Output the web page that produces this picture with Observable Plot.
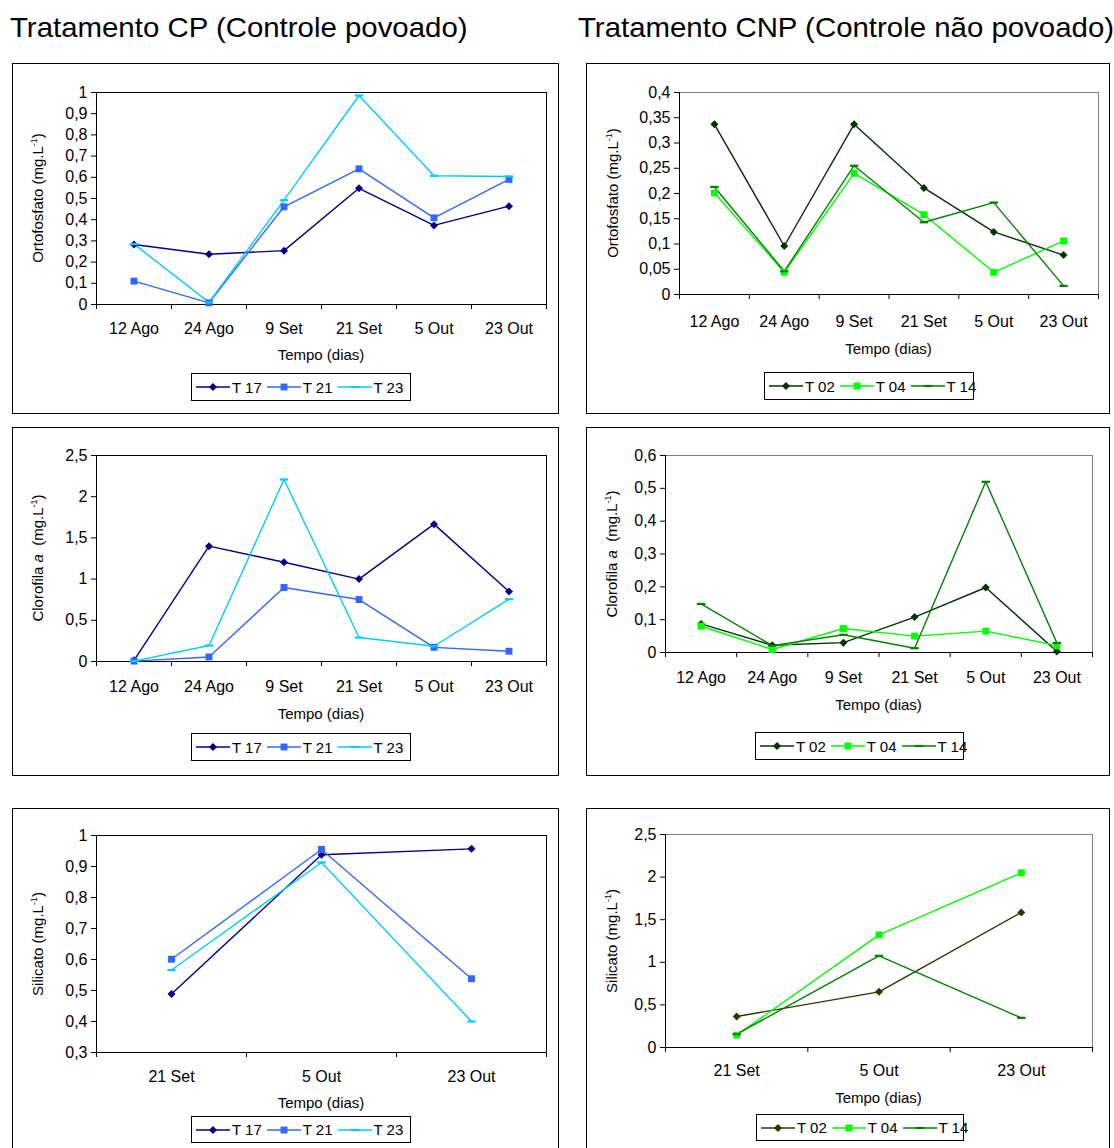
<!DOCTYPE html>
<html>
<head>
<meta charset="utf-8">
<script src="https://cdn.jsdelivr.net/npm/d3@7"></script>
<script src="https://cdn.jsdelivr.net/npm/@observablehq/plot@0.6"></script>
<style>
  body { margin: 0; background: #fff; font-family: "Liberation Sans", Arial, sans-serif; color: #000; }
  #page { position: relative; width: 1114px; height: 1148px; overflow: hidden; background: #fff; }
  .title { position: absolute; font-size: 28px; white-space: nowrap; line-height: 1; transform: scaleX(1.05); transform-origin: 0 0; }
  .panel { position: absolute; border: 1px solid #000; box-sizing: border-box; background: #fff; }
  .panel > svg { position: absolute; left: 0; top: 0; overflow: visible; }
  .ylab { position: absolute; transform: translate(-50%, -50%) rotate(-90deg); white-space: nowrap; font-size: 15px; line-height: 1; }
  .ylab sup { font-size: 9px; vertical-align: 6px; line-height: 0; }
  .xlab { position: absolute; transform: translate(-50%, -50%); white-space: nowrap; font-size: 15px; line-height: 1; }
  .legend { position: absolute; border: 1px solid #000; box-sizing: border-box; background: #fff;
            display: flex; align-items: center; padding-left: 4px; font-size: 15px; line-height: 1; white-space: nowrap; }
  .legend .item { display: flex; align-items: center; margin-right: 5px; flex: 0 0 auto; white-space: nowrap; }
  .legend svg { display: block; margin-right: 2px; flex: 0 0 auto; }
</style>
</head>
<body>
<div id="page"></div>
<script>
// Sampling dates
const datasCompletas = ["12 Ago", "24 Ago", "9 Set", "21 Set", "5 Out", "23 Out"];
const datasSilicato = ["21 Set", "5 Out", "23 Out"];

// Ortofosfato (mg/L) – CP tanks
const ortoT17 = [0.283, 0.237, 0.254, 0.548, 0.373, 0.464];
const ortoT21 = [0.110, 0.008, 0.461, 0.640, 0.409, 0.590];
const ortoT23 = [0.285, 0.010, 0.492, 0.986, 0.607, 0.604];
// Ortofosfato (mg/L) – CNP tanks
const ortoT02 = [0.337, 0.096, 0.337, 0.211, 0.124, 0.078];
const ortoT04 = [0.201, 0.044, 0.240, 0.158, 0.044, 0.106];
const ortoT14 = [0.213, 0.046, 0.255, 0.143, 0.182, 0.017];

// Clorofila a (mg/L) – CP tanks
const cloT17 = [0.015, 1.400, 1.205, 1.000, 1.667, 0.850];
const cloT21 = [0.005, 0.055, 0.898, 0.752, 0.172, 0.125];
const cloT23 = [0.005, 0.194, 2.209, 0.291, 0.185, 0.756];
// Clorofila a (mg/L) – CNP tanks
const cloT02 = [0.087, 0.022, 0.030, 0.108, 0.198, 0.003];
const cloT04 = [0.080, 0.009, 0.073, 0.050, 0.065, 0.021];
const cloT14 = [0.148, 0.021, 0.054, 0.013, 0.520, 0.029];

// Silicato (mg/L) – CP tanks
const silT17 = [0.489, 0.938, 0.957];
const silT21 = [0.601, 0.955, 0.538];
const silT23 = [0.566, 0.913, 0.400];
// Silicato (mg/L) – CNP tanks
const silT02 = [0.364, 0.653, 1.585];
const silT04 = [0.145, 1.322, 2.050];
const silT14 = [0.156, 1.076, 0.348];

// Short horizontal bar marker
const dash = {
  draw(ctx, size) {
    const w = Math.sqrt(size / Math.PI);
    ctx.moveTo(-w, -1.1); ctx.lineTo(w, -1.1); ctx.lineTo(w, 1.1); ctx.lineTo(-w, 1.1); ctx.closePath();
  }
};

const FONT = '"Liberation Sans", Arial, sans-serif';
const fmt = d => String(+d.toFixed(2)).replace(".", ",");

const page = document.getElementById("page");

function addTitle(text, x, y) {
  const t = document.createElement("div");
  t.className = "title";
  t.textContent = text;
  t.style.left = x + "px";
  t.style.top = y + "px";
  page.appendChild(t);
}

function legendSwatch(s) {
  const ns = "http://www.w3.org/2000/svg";
  const svg = document.createElementNS(ns, "svg");
  svg.setAttribute("width", 34); svg.setAttribute("height", 12);
  const line = document.createElementNS(ns, "line");
  line.setAttribute("x1", 0); line.setAttribute("x2", 34);
  line.setAttribute("y1", 6); line.setAttribute("y2", 6);
  line.setAttribute("stroke", s.color); line.setAttribute("stroke-width", 1.4);
  svg.appendChild(line);
  const sym = s.symbol === "dash" ? dash : s.symbol === "diamond" ? d3.symbolDiamond2 : d3.symbolSquare;
  const p = document.createElementNS(ns, "path");
  p.setAttribute("d", d3.symbol(sym, Math.PI * s.r * s.r)());
  p.setAttribute("transform", "translate(17,6)");
  p.setAttribute("fill", s.color);
  svg.appendChild(p);
  return svg;
}

function panel(cfg) {
  const { box, frame, categories, yDomain, yStep, series, ylabel, frameColor, legend, xlabY, ylabX, xPad } = cfg;
  const div = document.createElement("div");
  div.className = "panel";
  Object.assign(div.style, { left: box.x + "px", top: box.y + "px", width: box.w + "px", height: box.h + "px" });
  page.appendChild(div);

  // coordinates inside the bordered box (border is 1px)
  const ox = box.x + 1, oy = box.y + 1;
  const ml = frame.x - ox, mt = frame.y - oy;
  const mr = (box.x + box.w - 1) - (frame.x + frame.w);
  const mb = 45;
  const n = categories.length;
  const yTicks = d3.range(yDomain[0], yDomain[1] + yStep / 2, yStep).map(v => +v.toFixed(3));

  const rows = series.flatMap(s => s.values.map((v, i) => ({ serie: s.name, i, v })));

  const marks = [
    Plot.frame({ stroke: frameColor }),
    Plot.axisX({ ticks: d3.range(n + 1).map(k => k - 0.5), tickSize: 5, tickFormat: () => "", label: null, stroke: "#000" }),
    Plot.axisX({ ticks: d3.range(n), tickSize: 0, tickPadding: xPad, tickFormat: i => categories[i], label: null, fontSize: 16 }),
    Plot.axisY({ ticks: yTicks, tickSize: 5, tickPadding: 4, tickFormat: fmt, label: null, fontSize: 16 }),
    Plot.ruleY([yDomain[0]], { stroke: "#000" }),
    Plot.ruleX([-0.5], { stroke: "#000" })
  ];
  for (const s of series) {
    const d = rows.filter(r => r.serie === s.name);
    marks.push(Plot.lineY(d, { x: "i", y: "v", stroke: s.color, strokeWidth: 1.4 }));
  }
  for (const s of series) {
    const d = rows.filter(r => r.serie === s.name);
    const symbol = s.symbol === "dash" ? dash : s.symbol === "diamond" ? "diamond2" : "square";
    marks.push(Plot.dot(d, { x: "i", y: "v", symbol, r: s.r, fill: s.color, stroke: "none" }));
  }

  const chart = Plot.plot({
    width: box.w - 2,
    height: mt + frame.h + mb,
    marginLeft: ml, marginRight: mr, marginTop: mt, marginBottom: mb,
    style: { fontFamily: FONT, fontSize: "16px", color: "#000", background: "transparent", overflow: "visible" },
    x: { type: "linear", domain: [-0.5, n - 0.5] },
    y: { type: "linear", domain: yDomain },
    marks
  });
  div.appendChild(chart);

  // axis titles
  const yl = document.createElement("div");
  yl.className = "ylab";
  yl.innerHTML = ylabel;
  yl.style.left = (ylabX - ox) + "px";
  yl.style.top = (frame.y + frame.h / 2 - oy) + "px";
  div.appendChild(yl);

  const xl = document.createElement("div");
  xl.className = "xlab";
  xl.textContent = "Tempo (dias)";
  xl.style.left = (frame.x + frame.w / 2 - ox) + "px";
  xl.style.top = (xlabY - oy) + "px";
  div.appendChild(xl);

  // legend
  const lg = document.createElement("div");
  lg.className = "legend";
  Object.assign(lg.style, { left: (legend.x - ox) + "px", top: (legend.y - oy) + "px", width: legend.w + "px", height: legend.h + "px" });
  for (const s of series) {
    const it = document.createElement("div");
    it.className = "item";
    it.appendChild(legendSwatch(s));
    const sp = document.createElement("span");
    sp.textContent = s.name;
    it.appendChild(sp);
    lg.appendChild(it);
  }
  div.appendChild(lg);
}

const cp = (a, b, c) => [
  { name: "T 17", values: a, color: "#000080", symbol: "diamond", r: 3.6 },
  { name: "T 21", values: b, color: "#3366FF", symbol: "square", r: 3.9 },
  { name: "T 23", values: c, color: "#00CCFF", symbol: "dash", r: 4.2 }
];
const cnp = (a, b, c, c02 = "#003300") => [
  { name: "T 02", values: a, color: c02, symbol: "diamond", r: 3.6 },
  { name: "T 04", values: b, color: "#00FF00", symbol: "square", r: 3.9 },
  { name: "T 14", values: c, color: "#008000", symbol: "dash", r: 4.2 }
];

const labOrto = "Ortofosfato (mg.L<sup>-1</sup>)";
const labClo = "Clorofila <i>a</i>&nbsp; (mg.L<sup>-1</sup>)";
const labSil = "Silicato (mg.L<sup>-1</sup>)";

addTitle("Tratamento CP (Controle povoado)", 10, 14);
addTitle("Tratamento CNP (Controle não povoado)", 578, 14);

panel({
  box: { x: 12, y: 63, w: 547, h: 351 }, frame: { x: 96, y: 92, w: 450, h: 212 },
  categories: datasCompletas, yDomain: [0, 1], yStep: 0.1,
  series: cp(ortoT17, ortoT21, ortoT23), ylabel: labOrto, frameColor: "#000",
  legend: { x: 191, y: 373, w: 220, h: 28 }, xlabY: 354, ylabX: 37, xPad: 18
});
panel({
  box: { x: 586, y: 63, w: 524, h: 351 }, frame: { x: 679, y: 92, w: 419, h: 202 },
  categories: datasCompletas, yDomain: [0, 0.4], yStep: 0.05,
  series: cnp(ortoT02, ortoT04, ortoT14), ylabel: labOrto, frameColor: "#808080",
  legend: { x: 764, y: 372, w: 210, h: 28 }, xlabY: 348, ylabX: 612, xPad: 21
});
panel({
  box: { x: 12, y: 427, w: 547, h: 349 }, frame: { x: 96, y: 455, w: 450, h: 206 },
  categories: datasCompletas, yDomain: [0, 2.5], yStep: 0.5,
  series: cp(cloT17, cloT21, cloT23), ylabel: labClo, frameColor: "#000",
  legend: { x: 191, y: 733, w: 220, h: 28 }, xlabY: 713, ylabX: 37, xPad: 19
});
panel({
  box: { x: 586, y: 427, w: 524, h: 349 }, frame: { x: 665, y: 455, w: 427, h: 197 },
  categories: datasCompletas, yDomain: [0, 0.6], yStep: 0.1,
  series: cnp(cloT02, cloT04, cloT14), ylabel: labClo, frameColor: "#808080",
  legend: { x: 755, y: 732, w: 209, h: 28 }, xlabY: 704, ylabX: 611, xPad: 19
});
panel({
  box: { x: 12, y: 808, w: 547, h: 350 }, frame: { x: 96, y: 835, w: 450, h: 217 },
  categories: datasSilicato, yDomain: [0.3, 1], yStep: 0.1,
  series: cp(silT17, silT21, silT23), ylabel: labSil, frameColor: "#000",
  legend: { x: 191, y: 1116, w: 220, h: 27 }, xlabY: 1102, ylabX: 37, xPad: 18
});
panel({
  box: { x: 586, y: 808, w: 524, h: 350 }, frame: { x: 665, y: 834, w: 427, h: 213 },
  categories: datasSilicato, yDomain: [0, 2.5], yStep: 0.5,
  series: cnp(silT02, silT04, silT14, "#333300"), ylabel: labSil, frameColor: "#808080",
  legend: { x: 756, y: 1114, w: 208, h: 27 }, xlabY: 1097, ylabX: 611, xPad: 17
});
</script>
</body>
</html>
